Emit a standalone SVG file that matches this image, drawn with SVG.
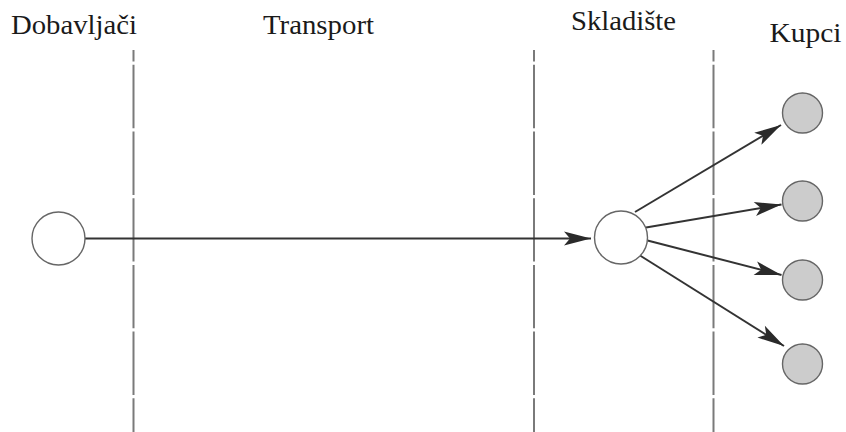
<svg xmlns="http://www.w3.org/2000/svg" width="846" height="432" viewBox="0 0 846 432">
  <style>
    .lbl { font-family: "Liberation Serif", "Times New Roman", serif; font-size: 27px; fill: #1a1a1a; }
    .divider { stroke: #7a7a7a; stroke-width: 2; stroke-dasharray: 63.4 3.3; stroke-dashoffset: 51.9; fill: none; }
    .edge { stroke: #333; stroke-width: 2; fill: none; marker-end: url(#arrow); }
    .open { fill: #fff; stroke: #666; stroke-width: 1.4; }
    .cust { fill: #cccccc; stroke: #666; stroke-width: 1.4; }
  </style>
  <defs>
    <marker id="arrow" markerUnits="userSpaceOnUse" viewBox="-28 -8 29 16" refX="0" refY="0" markerWidth="29" markerHeight="16" orient="auto">
      <path d="M0,0 L-27,-7 L-21,0 L-27,7 Z" fill="#2a2a2a"/>
    </marker>
  </defs>
  <rect width="846" height="432" fill="#fff"/>

  <g id="labels">
    <text class="lbl" x="11" y="34" textLength="126" lengthAdjust="spacingAndGlyphs">Dobavljači</text>
    <text class="lbl" x="263" y="34" textLength="111" lengthAdjust="spacingAndGlyphs">Transport</text>
    <text class="lbl" x="571" y="30" textLength="105" lengthAdjust="spacingAndGlyphs">Skladište</text>
    <text class="lbl" x="769.5" y="42" textLength="72" lengthAdjust="spacingAndGlyphs">Kupci</text>
  </g>

  <g id="dividers">
    <line class="divider" x1="133.5" y1="50" x2="133.5" y2="432"/>
    <line class="divider" x1="534" y1="50" x2="534" y2="432"/>
    <line class="divider" x1="713.5" y1="50" x2="713.5" y2="432"/>
  </g>

  <g id="connectors">
    <line class="edge" x1="85" y1="238.5" x2="591" y2="238.5"/>
    <line class="edge" x1="635" y1="212" x2="781" y2="125"/>
    <line class="edge" x1="646" y1="227.5" x2="781.5" y2="204.5"/>
    <line class="edge" x1="647.5" y1="240.5" x2="781.5" y2="275"/>
    <line class="edge" x1="640" y1="255.5" x2="784" y2="346"/>
  </g>

  <g id="supplier"><circle class="open" cx="58.5" cy="238.5" r="26.5"/></g>
  <g id="warehouse"><circle class="open" cx="621" cy="237.5" r="26.5"/></g>
  <g id="customer1"><circle class="cust" cx="802.5" cy="113" r="20"/></g>
  <g id="customer2"><circle class="cust" cx="802.5" cy="201" r="20"/></g>
  <g id="customer3"><circle class="cust" cx="802.5" cy="280" r="20"/></g>
  <g id="customer4"><circle class="cust" cx="802.5" cy="364" r="20"/></g>
</svg>
